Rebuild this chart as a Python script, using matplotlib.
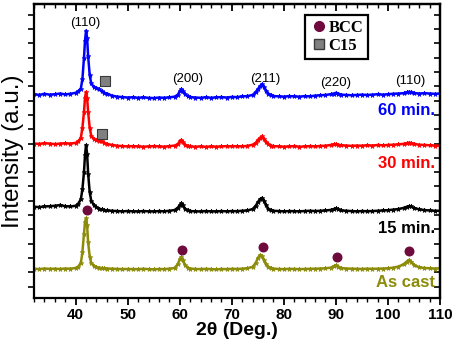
import numpy as np
import matplotlib
matplotlib.use('Agg')
import matplotlib.pyplot as plt
from matplotlib.lines import Line2D
from matplotlib.ticker import MultipleLocator, FixedLocator

plt.rcParams['font.family'] = ['Liberation Sans', 'DejaVu Sans']

# 2theta grid (deg)
two_theta = [32, 33, 34, 35, 36, 37, 38, 39, 40, 40.5,
             41, 41.3, 41.6, 41.8, 42.0, 42.2, 42.4, 42.7, 43.0, 43.5,
             44, 44.5, 45, 45.5, 46, 47, 48, 49, 50, 51,
             52, 53, 54, 55, 56, 57, 58, 59,
             59.6, 60.0, 60.3, 60.6, 61.0, 61.5,
             62, 63, 64, 65, 66, 67, 68, 69, 70, 71, 72, 73,
             74, 74.6, 75.0, 75.4, 75.8, 76.2, 76.6, 77.0, 77.5,
             78, 79, 80, 81, 82, 83, 84, 85, 86, 87, 88, 89,
             89.6, 90.0, 90.4,
             91, 92, 93, 94, 95, 96, 97, 98, 99, 100, 101, 102, 103,
             103.6, 104.0, 104.4,
             105, 106, 107, 108, 109, 110]

# intensities (a.u., already stacked)
i_60min = [14.25, 14.2, 14.28, 14.22, 14.25, 14.3, 14.24, 14.28, 14.35, 14.45,
           14.65, 15.3, 16.8, 18.0, 18.7, 18.2, 16.9, 15.6, 15.0, 14.75,
           14.7, 14.6, 14.45, 14.35, 14.3, 14.15, 14.08, 14.05, 14.02, 14.04,
           14.0, 14.03, 14.0, 13.98, 14.02, 14.0, 14.03, 14.08,
           14.2, 14.45, 14.6, 14.45, 14.25, 14.12,
           14.05, 14.02, 14.0, 14.04, 14.0, 14.03, 14.05, 14.02, 14.06, 14.05, 14.1, 14.12,
           14.2, 14.4, 14.6, 14.8, 14.95, 14.75, 14.5, 14.3, 14.2,
           14.12, 14.1, 14.08, 14.12, 14.1, 14.08, 14.12, 14.1, 14.15, 14.18, 14.2, 14.25,
           14.3, 14.35, 14.3,
           14.22, 14.2, 14.18, 14.2, 14.22, 14.2, 14.22, 14.25, 14.22, 14.25, 14.28, 14.3, 14.32,
           14.38, 14.42, 14.4,
           14.33, 14.3, 14.32, 14.3, 14.28, 14.3]

i_30min = [10.8, 10.78, 10.82, 10.8, 10.76, 10.8, 10.82, 10.8, 10.85, 10.95,
           11.2, 11.9, 13.0, 14.0, 14.4, 14.0, 13.0, 11.9, 11.35, 11.1,
           11.05, 11.0, 10.95, 10.85, 10.78, 10.7, 10.65, 10.62, 10.6, 10.62,
           10.6, 10.58, 10.6, 10.62, 10.6, 10.58, 10.62, 10.66,
           10.75, 10.95, 11.05, 10.9, 10.72, 10.64,
           10.6, 10.58, 10.6, 10.57, 10.6, 10.58, 10.6, 10.62, 10.6, 10.62, 10.6, 10.64,
           10.72, 10.85, 11.05, 11.2, 11.3, 11.1, 10.9, 10.75, 10.66,
           10.62, 10.6, 10.58, 10.6, 10.62, 10.58, 10.6, 10.62, 10.6, 10.63, 10.65, 10.7,
           10.74, 10.76, 10.72,
           10.68, 10.66, 10.64, 10.66, 10.65, 10.68, 10.66, 10.7, 10.68, 10.7, 10.72, 10.74, 10.78,
           10.82, 10.86, 10.84,
           10.78, 10.72, 10.7, 10.68, 10.66, 10.65]

i_15min = [6.38, 6.36, 6.4, 6.42, 6.45, 6.5, 6.42, 6.4, 6.45, 6.6,
           6.9, 7.6, 8.8, 10.0, 10.7, 10.1, 8.7, 7.4, 6.8, 6.5,
           6.35, 6.25, 6.2, 6.15, 6.12, 6.1, 6.08, 6.06, 6.08, 6.06,
           6.05, 6.08, 6.06, 6.05, 6.08, 6.06, 6.1, 6.15,
           6.3, 6.5, 6.62, 6.48, 6.25, 6.12,
           6.08, 6.06, 6.05, 6.08, 6.06, 6.05, 6.08, 6.06, 6.08, 6.07, 6.1, 6.12,
           6.22, 6.45, 6.7, 6.9, 7.0, 6.8, 6.5, 6.25, 6.14,
           6.1, 6.08, 6.06, 6.08, 6.07, 6.06, 6.08, 6.1, 6.08, 6.1, 6.12, 6.16,
           6.22, 6.26, 6.2,
           6.12, 6.1, 6.08, 6.06, 6.08, 6.07, 6.08, 6.1, 6.12, 6.14, 6.18, 6.22, 6.3,
           6.38, 6.42, 6.4,
           6.3, 6.2, 6.15, 6.12, 6.1, 6.1]

i_cast = [2.05, 2.02, 2.06, 2.04, 2.05, 2.03, 2.06, 2.05, 2.1, 2.2,
          2.45, 3.2, 4.5, 5.3, 5.57, 5.1, 3.9, 2.9, 2.45, 2.25,
          2.15, 2.12, 2.1, 2.08, 2.06, 2.05, 2.03, 2.02, 2.03, 2.02,
          2.02, 2.04, 2.02, 2.0, 2.03, 2.02, 2.05, 2.1,
          2.35, 2.7, 2.87, 2.65, 2.3, 2.12,
          2.06, 2.03, 2.02, 2.04, 2.02, 2.0, 2.03, 2.02, 2.04, 2.03, 2.05, 2.08,
          2.18, 2.45, 2.8, 3.0, 2.95, 2.65, 2.35, 2.18, 2.1,
          2.05, 2.03, 2.02, 2.04, 2.03, 2.02, 2.03, 2.04, 2.05, 2.06, 2.08, 2.12,
          2.22, 2.28, 2.2,
          2.1, 2.06, 2.05, 2.04, 2.03, 2.05, 2.04, 2.05, 2.06, 2.08, 2.12, 2.2, 2.35,
          2.55, 2.66, 2.55,
          2.3, 2.15, 2.1, 2.08, 2.06, 2.08]

series_labels = ['60 min.', '30 min.', '15 min.', 'As cast']
series_colors = ['#0000ff', '#ff0000', '#000000', '#8c8c0a']
label_y = [13.1, 9.4, 4.85, 1.1]

# phase markers
bcc_x = [42.25, 60.4, 75.9, 90.2, 104.0]
bcc_y = [6.15, 3.36, 3.55, 2.85, 3.29]
c15_x = [45.65, 45.1]
c15_y = [15.2, 11.5]

# hkl labels
hkl_text = ['(110)', '(200)', '(211)', '(220)', '(110)']
hkl_x = [41.9, 61.6, 76.4, 89.9, 104.3]
hkl_y = [19.2, 15.3, 15.3, 15.0, 15.2]

fig = plt.figure(figsize=(4.57, 3.47), dpi=100)
ax = fig.add_axes([0.0744, 0.1412, 0.8884, 0.8473])

all_i = [i_60min, i_30min, i_15min, i_cast]
for yy, c in zip(all_i, series_colors):
    ax.plot(two_theta, yy, color=c, lw=1.8, marker='*', ms=3.5, mew=0.5)

ax.scatter(bcc_x, bcc_y, s=38, color='#6e0a3c', zorder=5)
ax.scatter(c15_x, c15_y, s=45, marker='s', color='#808080', edgecolor='#3a3a3a', lw=0.8, zorder=5)

for t, x, y in zip(hkl_text, hkl_x, hkl_y):
    ax.text(x, y, t, ha='center', va='center', fontsize=9.5)

for t, c, y in zip(series_labels, series_colors, label_y):
    ax.text(109, y, t, ha='right', va='center', fontsize=12, fontweight='bold', color=c)

ax.set_xlim(32, 110)
ax.set_ylim(0, 20.56)
ax.xaxis.set_major_locator(MultipleLocator(10))
ax.xaxis.set_minor_locator(MultipleLocator(2))
ax.yaxis.set_major_locator(FixedLocator(np.arange(0.8, 20.5, 1.0)))
ax.set_yticklabels([])

ax.tick_params(axis='x', which='major', direction='out', length=5, width=1.3, labelsize=11, pad=2)
ax.tick_params(axis='x', which='minor', direction='out', length=3, width=1.0)
ax.tick_params(axis='y', which='major', direction='out', length=4, width=1.2)
for lab in ax.get_xticklabels():
    lab.set_fontweight('bold')

# mirrored inward ticks on top/right
sec_x = ax.secondary_xaxis('top')
sec_x.xaxis.set_major_locator(MultipleLocator(10))
sec_x.xaxis.set_minor_locator(MultipleLocator(2))
sec_x.tick_params(which='major', direction='in', length=5, width=1.3, labelsize=0)
sec_x.tick_params(which='minor', direction='in', length=3, width=1.0)
sec_x.set_xticklabels([])
sec_y = ax.secondary_yaxis('right')
sec_y.yaxis.set_major_locator(FixedLocator(np.arange(0.8, 20.5, 1.0)))
sec_y.tick_params(direction='in', length=4, width=1.2)
sec_y.set_yticklabels([])
for s in [sec_x.spines['top'], sec_y.spines['right']]:
    s.set_linewidth(1.6)
for s in ax.spines.values():
    s.set_linewidth(1.6)

ax.set_xlabel('2θ (Deg.)', fontsize=14, fontweight='bold', labelpad=0)
ax.set_ylabel('Intensity (a.u.)', fontsize=17.5, labelpad=0)

handles = [Line2D([], [], marker='o', ls='', color='#6e0a3c', ms=7),
           Line2D([], [], marker='s', ls='', color='#808080', mec='#3a3a3a', ms=7)]
leg = ax.legend(handles, ['BCC', 'C15'], loc='upper center', bbox_to_anchor=(0.746, 0.963),
                prop={'family': 'Liberation Serif', 'weight': 'bold', 'size': 12},
                fancybox=False, edgecolor='black', framealpha=1, handletextpad=0.1,
                handlelength=1.0, borderpad=0.3, labelspacing=0.1, borderaxespad=0)
leg.get_frame().set_linewidth(1.6)

fig.savefig('out.png', dpi=100)
